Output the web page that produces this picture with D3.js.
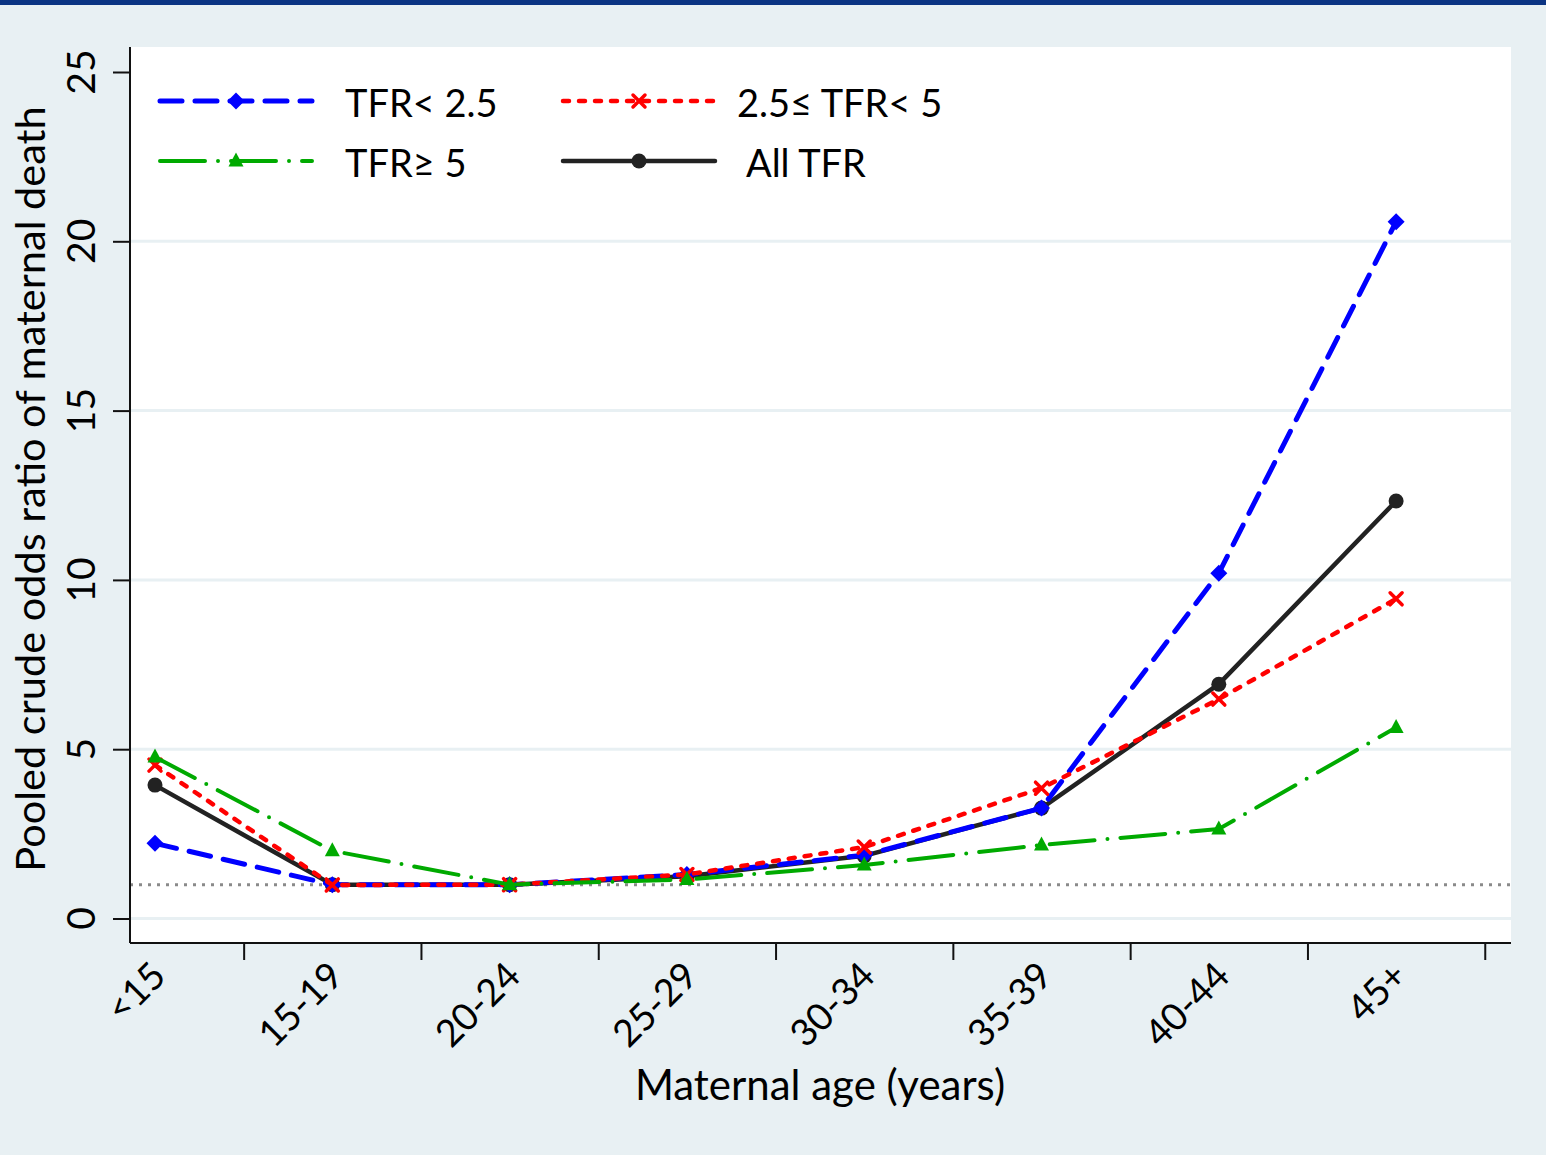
<!DOCTYPE html>
<html>
<head>
<meta charset="utf-8">
<script src="https://cdn.jsdelivr.net/npm/d3@7"></script>
<style>
  html, body { margin: 0; padding: 0; background: #e8f0f3; }
  svg { display: block; font-family: Lato, "Open Sans", sans-serif; }
</style>
</head>
<body>
<svg id="chart"></svg>
<script>
const ageGroups = ["<15", "15-19", "20-24", "25-29", "30-34", "35-39", "40-44", "45+"];
const tfrLow  = [2.22, 1.0, 1.0, 1.3, 1.87, 3.26, 10.2, 20.58];
const tfrMid  = [4.53, 0.99, 1.0, 1.3, 2.11, 3.85, 6.48, 9.44];
const tfrHigh = [4.77, 2.0, 1.0, 1.15, 1.58, 2.17, 2.64, 5.64];
const tfrAll  = [3.94, 1.0, 1.0, 1.25, 1.85, 3.26, 6.92, 12.33];
const yTicks = [0, 5, 10, 15, 20, 25];
const refValue = 1;

const W = 1546, H = 1155;
const margin = {top: 47, right: 35, bottom: 212, left: 130},
    width = W - margin.left - margin.right,
    height = H - margin.top - margin.bottom;

const root = d3.select("#chart").attr("width", W).attr("height", H);

root.append("rect").attr("width", W).attr("height", H).attr("fill", "#e8f0f3");
root.append("rect").attr("width", W).attr("height", 5).attr("fill", "#0b3483");

const svg = root.append("g")
    .attr("transform", `translate(${margin.left},${margin.top})`);

svg.append("rect").attr("width", width).attr("height", height).attr("fill", "#fff");

const x = d3.scaleLinear()
    .domain([-0.141, 7.648])
    .range([0, width]);

const y = d3.scaleLinear()
    .domain([0, 25])
    .range([871.5, 25]);

// gridlines
svg.selectAll(".grid")
    .data(yTicks.filter(d => d < 25))
    .enter().append("line")
    .attr("x1", 0).attr("x2", width)
    .attr("y1", d => y(d)).attr("y2", d => y(d))
    .attr("stroke", "#e8f0f3").attr("stroke-width", 3);

// reference line at OR = 1
svg.append("line")
    .attr("x1", 0).attr("x2", width)
    .attr("y1", y(refValue)).attr("y2", y(refValue))
    .attr("stroke", "#8a8a8a").attr("stroke-width", 3)
    .attr("stroke-dasharray", "3,6");

// axes
const yAxis = svg.append("g")
    .call(d3.axisLeft(y).tickValues(yTicks).tickSize(17).tickFormat(""));
const xAxis = svg.append("g")
    .attr("transform", `translate(0,${height})`)
    .call(d3.axisBottom(x).tickValues(d3.range(8).map(i => i + 0.5)).tickSize(17).tickFormat(""));

[yAxis, xAxis].forEach(a => {
    a.select(".domain").remove();
    a.selectAll(".tick line").attr("stroke", "#111").attr("stroke-width", 2);
});
svg.append("line").attr("x1", 0).attr("x2", 0).attr("y1", 0).attr("y2", height)
    .attr("stroke", "#111").attr("stroke-width", 2);
svg.append("line").attr("x1", 0).attr("x2", width).attr("y1", height).attr("y2", height)
    .attr("stroke", "#111").attr("stroke-width", 2);

// y tick labels, rotated
svg.selectAll(".ylab")
    .data(yTicks)
    .enter().append("text")
    .attr("transform", d => `translate(-35,${y(d)}) rotate(-90)`)
    .attr("text-anchor", "middle")
    .attr("font-size", 39)
    .attr("fill", "#000")
    .text(d => d);

// x tick labels, rotated 45
svg.selectAll(".xlab")
    .data(ageGroups)
    .enter().append("text")
    .attr("transform", (d, i) => `translate(${x(i) + 13},${height + 35}) rotate(-45)`)
    .attr("text-anchor", "end")
    .attr("font-size", 37.5)
    .attr("fill", "#000")
    .text(d => d);

// axis titles
root.append("text")
    .attr("x", 820).attr("y", 1100)
    .attr("text-anchor", "middle")
    .attr("font-size", 42)
    .text("Maternal age (years)");

root.append("text")
    .attr("transform", "translate(45,489) rotate(-90)")
    .attr("text-anchor", "middle")
    .attr("font-size", 41.5)
    .text("Pooled crude odds ratio of maternal death");

// series
const series = [
    {name: "All TFR", values: tfrAll, color: "#222222", dash: null, width: 4.5, marker: "circle", col: 1, row: 1},
    {name: "TFR< 2.5", values: tfrLow, color: "#0000ff", dash: "22,13", width: 5, marker: "diamond", col: 0, row: 0},
    {name: "2.5\u2264 TFR< 5", values: tfrMid, color: "#ff0000", dash: "6,10", width: 4.5, marker: "cross", col: 1, row: 0},
    {name: "TFR\u2265 5", values: tfrHigh, color: "#00aa00", dash: "45,13,0,13", width: 4, marker: "triangle", col: 0, row: 1}
];

const line = d3.line().x((d, i) => x(i)).y(d => y(d));

function drawMarker(g, type, color) {
    if (type === "circle") {
        g.append("circle").attr("r", 7.5).attr("fill", color);
    } else if (type === "diamond") {
        g.append("path").attr("d", "M0,-8.5L8.5,0L0,8.5L-8.5,0Z").attr("fill", color);
    } else if (type === "triangle") {
        g.append("path").attr("d", "M0,-8.5L7.5,5.5L-7.5,5.5Z").attr("fill", color);
    } else if (type === "cross") {
        g.append("path").attr("d", "M-6,-6L6,6M-6,6L6,-6")
            .attr("stroke", color).attr("stroke-width", 3.5).attr("stroke-linecap", "round");
    }
}

series.forEach(s => {
    svg.append("path")
        .datum(s.values)
        .attr("d", line)
        .attr("fill", "none")
        .attr("stroke", s.color)
        .attr("stroke-width", s.width)
        .attr("stroke-linecap", "round")
        .attr("stroke-linejoin", "round")
        .attr("stroke-dasharray", s.dash);
    svg.selectAll(null)
        .data(s.values)
        .enter().append("g")
        .attr("transform", (d, i) => `translate(${x(i)},${y(d)})`)
        .each(function() { drawMarker(d3.select(this), s.marker, s.color); });
});

// legend
const legendCols = [160, 563], legendText = [345, 737], legendRows = [101, 161];
series.forEach(s => {
    const lx = legendCols[s.col], ly = legendRows[s.row];
    root.append("line")
        .attr("x1", lx).attr("x2", lx + 152)
        .attr("y1", ly).attr("y2", ly)
        .attr("stroke", s.color)
        .attr("stroke-width", s.width)
        .attr("stroke-linecap", "round")
        .attr("stroke-dasharray", s.dash);
    const m = root.append("g").attr("transform", `translate(${lx + 76},${ly})`);
    drawMarker(m, s.marker, s.color);
    root.append("text")
        .attr("x", legendText[s.col] + (s.name === "All TFR" ? 9 : 0))
        .attr("y", ly + 16)
        .attr("font-size", 38)
        .text(s.name);
});
</script>
</body>
</html>
